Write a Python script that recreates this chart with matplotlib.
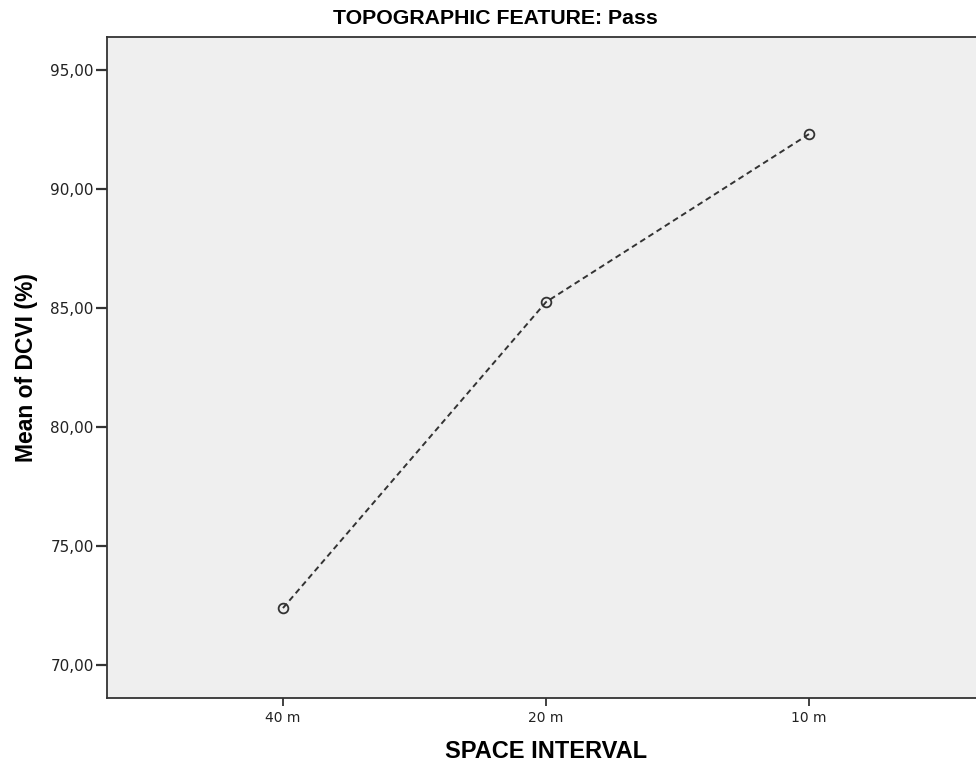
import matplotlib
matplotlib.use("Agg")
import matplotlib.pyplot as plt

categories = ["40 m", "20 m", "10 m"]
values = [72.39, 85.25, 92.31]
yticks = [70, 75, 80, 85, 90, 95]
ytick_labels = ["70,00", "75,00", "80,00", "85,00", "90,00", "95,00"]

fig = plt.figure(figsize=(9.76, 7.73), dpi=100)
W, H = 976, 773
left, right, top, bottom = 107, 985, 37, 698
ax = fig.add_axes([left / W, 1 - bottom / H, (right - left) / W, (bottom - top) / H])
ax.set_facecolor("#efefef")

x = list(range(len(categories)))
ax.plot(x, values, linestyle=(0, (3, 2)), color="#333333", linewidth=1.4,
        marker="o", markersize=7, markerfacecolor="none", markeredgecolor="#333333",
        markeredgewidth=1.3)

ax.set_xlim(-0.669, 2.669)
ax.set_ylim(68.61, 96.39)
ax.set_xticks(x)
ax.set_xticklabels(categories, fontsize=10, family="DejaVu Sans")
ax.set_yticks(yticks)
ax.set_yticklabels(ytick_labels, fontsize=11, family="DejaVu Sans")
ax.tick_params(axis="y", direction="out", length=8, width=1.6, pad=1.5, color="#333333", labelcolor="#222222")
ax.tick_params(axis="x", direction="out", length=6, width=1.3, pad=3, color="#333333", labelcolor="#222222")
for s in ax.spines.values():
    s.set_color("#333333")
    s.set_linewidth(1.3)

fig.text(495 / W, 1 - 19 / H, "TOPOGRAPHIC FEATURE: Pass", fontsize=15.3, fontweight="bold",
         family="Liberation Sans", ha="center", va="center")
ax.set_xlabel("SPACE INTERVAL", fontsize=17, fontweight="bold", family="Liberation Sans", labelpad=11)
ax.set_ylabel("Mean of DCVI (%)", fontsize=16.5, fontweight="bold", family="Liberation Sans", labelpad=9)

fig.savefig("out.png", dpi=100, facecolor="white")
